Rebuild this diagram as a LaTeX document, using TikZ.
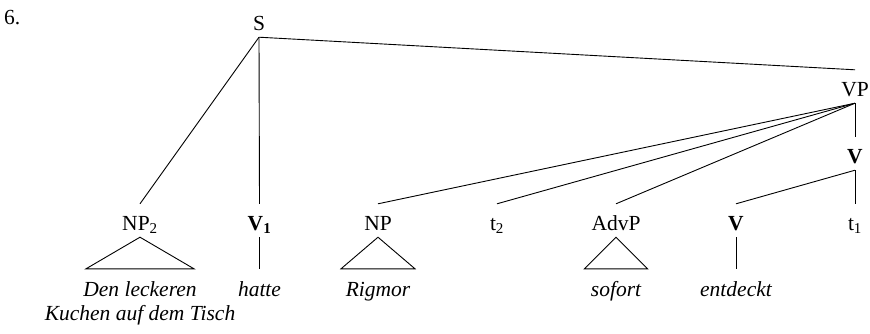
\documentclass[tikz,border=0pt]{standalone}
\usepackage{fontspec}
\setmainfont{Liberation Serif}
\begin{document}
\begin{tikzpicture}[x=1pt,y=-1pt,
  every node/.style={font=\fontsize{21.5}{24}\selectfont},
  lab/.style={anchor=base,text height=19pt,text depth=0pt,inner ysep=7pt,inner xsep=0pt},
  leaf/.style={anchor=base,text height=15pt,text depth=0pt,inner ysep=12pt,inner xsep=0pt,font=\fontsize{21.5}{24}\selectfont\itshape},
  edge/.style={line width=0.9pt},
  roof/.style={line width=0.9pt,line join=miter}]
\useasboundingbox (0,0) rectangle (870,333);
\node[anchor=base west,inner sep=0pt] (num) at (4,24) {6.};
% labels
\node[lab] (S) at (259,30) {S};
\node[lab] (VP) at (855,96) {VP};
\node[lab] (Vbar) at (855,163) {\textbf{V}};
\node[lab] (NPtwo) at (140,230) {NP\textsubscript{2}};
\node[lab] (Vone) at (259.5,230) {\textbf{V\textsubscript{1}}};
\node[lab] (NP) at (378,230) {NP};
\node[lab] (ttwo) at (497,230) {t\textsubscript{2}};
\node[lab] (AdvP) at (616,230) {AdvP};
\node[lab] (V) at (736,230) {\textbf{V}};
\node[lab] (tone) at (855,230) {t\textsubscript{1}};
% leaves
\node[leaf] (den) at (140,296) {Den leckeren};
\node[leaf,inner ysep=0pt] (kuchen) at (140,320) {Kuchen auf dem Tisch};
\node[leaf] (hatte) at (259.5,296) {hatte};
\node[leaf] (rigmor) at (378,296) {Rigmor};
\node[leaf] (sofort) at (616,296) {sofort};
\node[leaf] (entdeckt) at (736,296) {entdeckt};
% edges
\draw[edge] (S.south) -- (VP.north);
\draw[edge] (S.south) -- (NPtwo.north);
\draw[edge] (S.south) -- (Vone.north);
\draw[edge] (VP.south) -- (NP.north);
\draw[edge] (VP.south) -- (ttwo.north);
\draw[edge] (VP.south) -- (AdvP.north);
\draw[edge] (VP.south) -- (Vbar.north);
\draw[edge] (Vbar.south) -- (V.north);
\draw[edge] (Vbar.south) -- (tone.north);
\draw[edge] (Vone.south) -- (hatte.north);
\draw[edge] (V.south) -- (entdeckt.north);
% roofs
\draw[roof] (NPtwo.south) -- ([xshift=-54pt]den.north) -- ([xshift=54pt]den.north) -- cycle;
\draw[roof] (NP.south) -- ([xshift=-37pt]rigmor.north) -- ([xshift=37pt]rigmor.north) -- cycle;
\draw[roof] (AdvP.south) -- ([xshift=-31.5pt]sofort.north) -- ([xshift=31.5pt]sofort.north) -- cycle;
\end{tikzpicture}
\end{document}
